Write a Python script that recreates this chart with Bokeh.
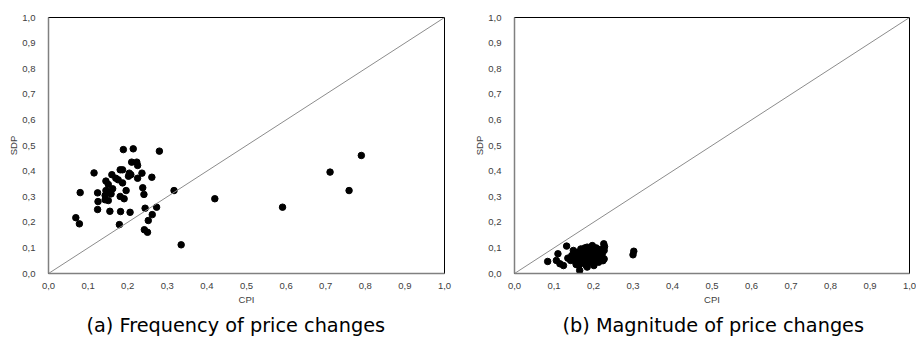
from bokeh.plotting import figure
from bokeh.layouts import row
from bokeh.models import Range1d, FixedTicker, Slope
from bokeh.embed import file_html
from bokeh.resources import INLINE

# ---- data ----
freq_cpi = [0.189, 0.214, 0.280, 0.210, 0.223, 0.225, 0.115, 0.181, 0.187, 0.204,
            0.208, 0.202, 0.236, 0.160, 0.170, 0.225, 0.261, 0.145, 0.176, 0.187,
            0.151, 0.238, 0.080, 0.124, 0.145, 0.155, 0.162, 0.196, 0.143, 0.158,
            0.241, 0.317, 0.181, 0.191, 0.125, 0.143, 0.151, 0.420, 0.124, 0.155,
            0.182, 0.206, 0.244, 0.273, 0.069, 0.078, 0.179, 0.262, 0.252, 0.242,
            0.250, 0.335, 0.591, 0.711, 0.759, 0.790]
freq_sdp = [0.484, 0.487, 0.478, 0.435, 0.435, 0.422, 0.393, 0.405, 0.405, 0.392,
            0.386, 0.380, 0.392, 0.386, 0.372, 0.372, 0.376, 0.361, 0.366, 0.354,
            0.348, 0.335, 0.316, 0.315, 0.324, 0.318, 0.331, 0.324, 0.305, 0.311,
            0.309, 0.324, 0.301, 0.292, 0.281, 0.288, 0.285, 0.292, 0.250, 0.243,
            0.242, 0.239, 0.255, 0.259, 0.218, 0.194, 0.191, 0.230, 0.207, 0.171,
            0.161, 0.112, 0.259, 0.396, 0.324, 0.461]

mag_cpi = [0.084, 0.106, 0.110, 0.115, 0.124, 0.132, 0.142, 0.146, 0.149, 0.150,
           0.154, 0.155, 0.158, 0.160, 0.163, 0.165, 0.166, 0.168, 0.170, 0.172,
           0.175, 0.176, 0.178, 0.180, 0.182, 0.184, 0.184, 0.186, 0.188, 0.190,
           0.192, 0.195, 0.197, 0.198, 0.200, 0.201, 0.203, 0.205, 0.207, 0.209,
           0.210, 0.213, 0.215, 0.218, 0.220, 0.222, 0.224, 0.226, 0.227, 0.227,
           0.228, 0.156, 0.145, 0.135, 0.300, 0.302]
mag_sdp = [0.047, 0.051, 0.077, 0.038, 0.031, 0.107, 0.051, 0.060, 0.090, 0.075,
           0.064, 0.045, 0.082, 0.055, 0.031, 0.012, 0.070, 0.096, 0.040, 0.060,
           0.085, 0.050, 0.100, 0.070, 0.030, 0.103, 0.025, 0.055, 0.090, 0.078,
           0.045, 0.065, 0.109, 0.095, 0.040, 0.031, 0.080, 0.058, 0.100, 0.070,
           0.050, 0.044, 0.085, 0.060, 0.095, 0.075, 0.050, 0.116, 0.090, 0.057,
           0.105, 0.035, 0.070, 0.060, 0.073, 0.087]

tick_values = [0.0, 0.1, 0.2, 0.3, 0.4, 0.5, 0.6, 0.7, 0.8, 0.9, 1.0]
tick_labels = ["0,0", "0,1", "0,2", "0,3", "0,4", "0,5", "0,6", "0,7", "0,8", "0,9", "1,0"]

captions = ["(a) Frequency of price changes", "(b) Magnitude of price changes"]


def make_panel(xs, ys, caption, border_left, border_right, frame_w, cap_offset):
    p = figure(frame_width=frame_w, frame_height=256, output_backend="svg", toolbar_location=None,
               x_range=Range1d(0, 1), y_range=Range1d(0, 1),
               min_border_left=border_left, min_border_right=border_right,
               min_border_top=17, min_border_bottom=69,
               title=caption, title_location="below")
    p.title.align = "left"
    p.title.offset = cap_offset
    p.title.text_font = "DejaVu Sans"
    p.title.text_font_size = "19.3px"
    p.title.text_font_style = "normal"
    p.title.text_color = "black"
    p.title.standoff = 9

    p.xgrid.visible = False
    p.ygrid.visible = False
    p.outline_line_color = "black"
    p.outline_line_width = 1
    p.background_fill_color = "white"
    p.border_fill_color = "white"

    overrides = {v: l for v, l in zip(tick_values, tick_labels)}
    for ax, lab in ((p.xaxis, "CPI"), (p.yaxis, "SDP")):
        ax.ticker = FixedTicker(ticks=tick_values)
        ax.major_label_overrides = overrides
        ax.major_tick_line_color = None
        ax.minor_tick_line_color = None
        ax.axis_line_color = "#808080"
        ax.axis_line_width = 1.5
        ax.major_label_text_font = "Liberation Sans"
        ax.major_label_text_font_size = "9.5px"
        ax.major_label_text_color = "#404040"
        ax.axis_label = lab
        ax.axis_label_text_font = "Liberation Sans"
        ax.axis_label_text_font_size = "9.5px"
        ax.axis_label_text_font_style = "normal"
        ax.axis_label_text_color = "#404040"
    p.xaxis.major_label_standoff = 3
    p.xaxis.axis_label_standoff = 2
    p.yaxis.major_label_standoff = 7
    p.yaxis.axis_label_standoff = 0

    p.add_layout(Slope(gradient=1, y_intercept=0, line_color="#8c8c8c", line_width=1))
    p.scatter(xs, ys, size=6.5, color="black")
    return p


p1 = make_panel(freq_cpi, freq_sdp, captions[0], 48, 14, 396, 38)
p2 = make_panel(mag_cpi, mag_sdp, captions[1], 56, 7, 395, 48)
layout = row(p1, p2)

open("out.html", "w").write(file_html(layout, INLINE))
